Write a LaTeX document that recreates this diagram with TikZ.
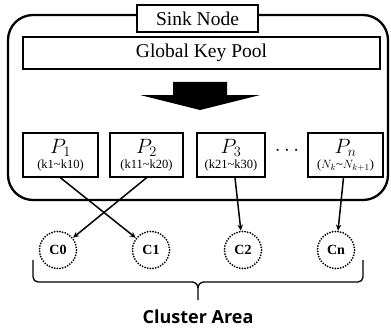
\documentclass[tikz,border=0pt]{standalone}
\usepackage{fontspec}
\setmainfont{Liberation Serif}
\newfontfamily\labelsans{Open Sans}
\usetikzlibrary{arrows.meta,calc}
\tikzset{
  box/.style={draw=black, line width=1.6pt, fill=white, inner sep=0pt},
  keybox/.style={box, minimum height=44pt, align=center},
  cluster/.style={circle, draw=black, line width=2pt, minimum size=37pt,
    dash pattern=on 0pt off 2.7pt, line cap=round, inner sep=0pt,
    font=\fontsize{14}{14}\selectfont\bfseries},
  link/.style={line width=1.5pt, -{Stealth[length=6pt,width=5.5pt]}},
}
\newcommand{\keypart}[2]{%
  {\fontsize{21}{21}\selectfont$#1$}\\[3pt]{\fontsize{12.5}{12.5}\selectfont #2}}
\begin{document}
\begin{tikzpicture}[x=1pt, y=-1pt]
\useasboundingbox (0,0) rectangle (391,329);

% sink node enclosure
\draw[line width=2.3pt, rounded corners=25pt] (8,15) rectangle (388,200);
\node[box, minimum width=121pt, minimum height=27pt, font=\fontsize{19.5}{19.5}\selectfont]
  (sink) at (197.5,18.5) {Sink Node};
\node[box, minimum width=357pt, minimum height=32pt, font=\fontsize{19.5}{19.5}\selectfont]
  (pool) at (201.5,53) {Global Key Pool};

% distribution arrow
\fill[black] (173,82) -- (227,82) -- (227,95) -- (260,95) -- (200,110)
  -- (140,95) -- (173,95) -- cycle;

% key partitions
\node[keybox, minimum width=75pt] (P1) at (60.5,155)
  {\keypart{P_1}{(k1\char"7E k10)}};
\node[keybox, minimum width=73pt] (P2) at (146.5,155)
  {\keypart{P_2}{(k11\char"7E k20)}};
\node[keybox, minimum width=68pt] (P3) at (231,155)
  {\keypart{P_3}{(k21\char"7E k30)}};
\node[font=\fontsize{20}{20}\selectfont\bfseries] (dots) at (287,151) {$\mathbf{\cdots}$};
\node[keybox, minimum width=75pt] (Pn) at (345.5,155)
  {\keypart{P_n}{($N_k$\char"7E$N_{k+1}$)}};

% clusters
\node[cluster] (C0) at (58,250) {C0};
\node[cluster] (C1) at (151,250) {C1};
\node[cluster] (C2) at (243,250) {C2};
\node[cluster] (Cn) at (336,250) {Cn};

% assignments
\draw[link] (P1.south) -- (C1);
\draw[link] (P2.south) -- (C0);
\draw[link] ([xshift=4pt]P3.south) -- (C2);
\draw[link] ([xshift=-2pt]Pn.south) -- (Cn);

% cluster area brace
\coordinate (bl) at (33,260);
\coordinate (br) at (363,260);
\coordinate (tip) at (198,300);
\draw[line width=1.3pt, line join=round]
  (bl) -- (33,277) to[out=-90,in=180] (38,282) -- (192,282)
  to[out=0,in=90] (tip |- 0,288) -- (tip);
\draw[line width=1.3pt, line join=round]
  (br) -- (363,277) to[out=-90,in=0] (358,282) -- (204,282)
  to[out=180,in=90] (tip |- 0,288);
\node[font=\labelsans\bfseries\fontsize{18}{18}\selectfont] (area) at (198,317) {Cluster Area};
\end{tikzpicture}
\end{document}
